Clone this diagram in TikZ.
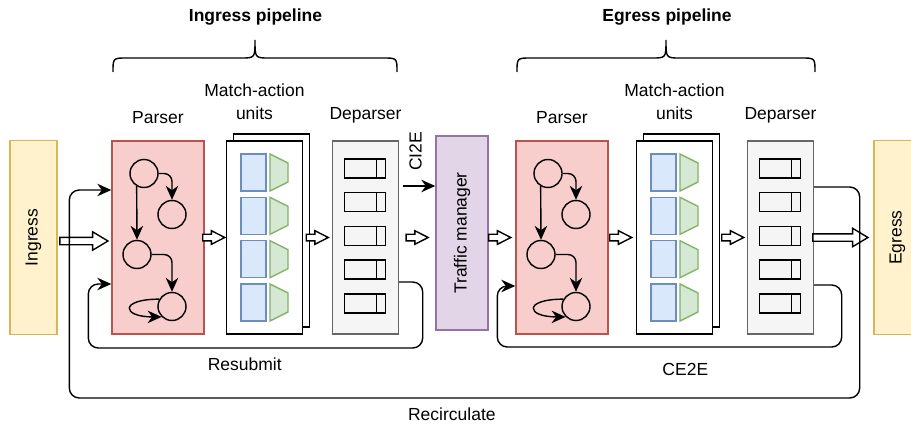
\documentclass[tikz,border=0pt]{standalone}
\usepackage{fontspec}
\setmainfont{Liberation Sans}
\usepackage{tikz}
\usetikzlibrary{shapes,arrows.meta,positioning,calc}

\definecolor{portfill}{HTML}{FFF2CC}
\definecolor{portline}{HTML}{D6B656}
\definecolor{parsefill}{HTML}{F8CECC}
\definecolor{parseline}{HTML}{B85450}
\definecolor{depfill}{HTML}{F5F5F5}
\definecolor{depline}{HTML}{666666}
\definecolor{tmfill}{HTML}{E1D5E7}
\definecolor{tmline}{HTML}{9673A6}
\definecolor{tablefill}{HTML}{DAE8FC}
\definecolor{tableline}{HTML}{6C8EBF}
\definecolor{actionfill}{HTML}{D5E8D4}
\definecolor{actionline}{HTML}{82B366}

\begin{document}
\begin{tikzpicture}[>={Stealth[length=14pt,width=12.5pt,inset=4.5pt]}, x=1pt, y=-1pt, line width=1.4pt, font=\fontsize{17.5}{23}\selectfont]
    \tikzstyle{port} = [draw=portline, fill=portfill, minimum width=47pt, minimum height=194pt];
    \tikzstyle{parser} = [draw=parseline, fill=parsefill, minimum width=92pt, minimum height=193pt];
    \tikzstyle{mau} = [draw, fill=white, minimum width=76pt, minimum height=193pt];
    \tikzstyle{deparser} = [draw=depline, fill=depfill, minimum width=66pt, minimum height=193pt];
    \tikzstyle{tm} = [draw=tmline, fill=tmfill, minimum width=52pt, minimum height=194pt];
    \tikzstyle{state} = [draw, circle, minimum size=28pt, inner sep=0pt];
    \tikzstyle{table} = [draw=tableline, fill=tablefill, minimum width=25pt, minimum height=37pt, inner sep=0pt];
    \tikzstyle{action} = [draw=actionline, fill=actionfill];
    \tikzstyle{field} = [draw, minimum width=41pt, minimum height=19pt, inner sep=0pt];
    \tikzstyle{hollow} = [draw, fill=white, single arrow, inner xsep=0pt, inner ysep=2.6pt, single arrow head extend=3.5pt, single arrow tip angle=54, anchor=tip, minimum height=22pt];
    \tikzstyle{bighollow} = [hollow, inner ysep=3pt, single arrow head extend=5.5pt, single arrow tip angle=62];
    \tikzstyle{loop} = [->, rounded corners=10pt];
    \tikzstyle{title} = [font=\fontsize{17.5}{23}\selectfont\bfseries];

    \useasboundingbox (0,0) rectangle (911,425);

    % Blocks
    \node [port] (ingress) at (33.5,237.5) {\rotatebox{90}{Ingress}};
    \node [parser, right of=ingress, node distance=124.5pt] (parserI) {};
    \node [mau, right of=parserI, node distance=113.5pt, yshift=7pt] (mauIback) {};
    \node [mau, right of=parserI, node distance=106.5pt] (mauI) {};
    \node [deparser, right of=mauI, node distance=101pt] (deparserI) {};
    \node [tm, right of=deparserI, node distance=96.5pt, yshift=4.5pt] (tm) {\rotatebox{90}{Traffic manager}};
    \node [parser, right of=deparserI, node distance=196.5pt] (parserE) {};
    \node [mau, right of=parserE, node distance=119.5pt, yshift=7pt] (mauEback) {};
    \node [mau, right of=parserE, node distance=112.5pt] (mauE) {};
    \node [deparser, right of=mauE, node distance=106pt] (deparserE) {};
    \node [port, right of=deparserE, node distance=117pt] (egress) {\rotatebox{90}{Egress}};

    % Labels
    \node [above=13pt of parserI] (parserIlbl) {Parser};
    \node [above=16.5pt of mauI, xshift=-10pt, align=center] (mauIlbl) {Match-action\\units};
    \node [above=13pt of deparserI] (deparserIlbl) {Deparser};
    \node [above=13pt of parserE] (parserElbl) {Parser};
    \node [above=16.5pt of mauE, align=center] (mauElbl) {Match-action\\units};
    \node [above=13pt of deparserE] (deparserElbl) {Deparser};
    \node [title] (ingtitle) at (255.5,17) {Ingress pipeline};
    \node [title] (egrtitle) at (667,17) {Egress pipeline};
    \foreach \a/\b in {113/397,517/815} {
        \pgfmathsetmacro{\m}{(\a+\b)/2}
        \draw (\a,72) .. controls (\a,58) .. (\a+14,58) -- (\m-14,58) .. controls (\m,58) .. (\m,40) .. controls (\m,58) .. (\m+14,58) -- (\b-14,58) .. controls (\b,58) .. (\b,72);
    }

    % Parser graphs, tables and fields
    \foreach \p in {I,E} {
        \node [state] (s1\p) at ($(parser\p)+(-14,-64)$) {};
        \node [state] (s2\p) at ($(parser\p)+(14,-23)$) {};
        \node [state] (s3\p) at ($(parser\p)+(-21,17)$) {};
        \node [state] (s4\p) at ($(parser\p)+(14,69)$) {};
        \draw [->] (s1\p.240) -- (s3\p.north);
        \draw [->, rounded corners=8pt] (s1\p.east) -| (s2\p.north);
        \draw [->, rounded corners=8pt] (s3\p.east) -| (s4\p.north);
        \draw [->] (s4\p.150) .. controls +(-40,0) and +(-40,0) .. (s4\p.225);
        \foreach \y [count=\i] in {-65,-21.7,21.7,65} {
            \node [table] (t\p\i) at ($(mau\p)+(-11,\y)$) {};
            \draw [action] ($(mau\p)+(5.5,\y-18.5)$) -- ++(18,9) -- ++(0,19) -- ++(-18,9) -- cycle;
        }
        \foreach \y [count=\i] in {-69,-35.3,-1.6,32.1,65.8} {
            \node [field] (f\p\i) at ($(deparser\p)+(-0.5,\y)$) {};
            \draw ([xshift=-10pt]f\p\i.north east) -- ([xshift=-10pt]f\p\i.south east);
        }
    }

    % Hollow arrows
    \node [bighollow, minimum height=48pt] (h0) at ([xshift=-2pt, yshift=-3.5pt]parserI.west) {};
    \node [hollow] (h1) at ([xshift=0.5pt]mauI.west) {};
    \node [hollow] (h2) at ([xshift=-2pt]deparserI.west) {};
    \node [hollow] (h3) at ([xshift=30.5pt]deparserI.east) {};
    \node [hollow] (h4) at ([xshift=-3pt]parserE.west) {};
    \node [hollow] (h5) at ([xshift=-2.5pt]mauE.west) {};
    \node [hollow] (h6) at ([xshift=-1.5pt]deparserE.west) {};
    \node [bighollow, minimum height=55pt] (h7) at ([xshift=-4pt]egress.west) {};

    % Paths
    \coordinate (ci2e) at ([xshift=3.5pt, yshift=51.5pt]deparserI.east);
    \draw [->] (ci2e) -- (ci2e -| tm.west);
    \node [rotate=90, anchor=west] (ci2elbl) at ([shift={(13,-11)}]ci2e) {CI2E};

    \coordinate (rsA) at ([yshift=-44.5pt]deparserI.east);
    \coordinate (rsB) at ([yshift=-46.5pt]parserI.west);
    \draw [loop] (rsA) -- ++(23.5,0) |- node [pos=0.766, below=6pt] (rslbl) {Resubmit} ($(rsB)+(-23,64)$) |- (rsB);

    \coordinate (ceA) at ([yshift=-47.5pt]deparserE.east);
    \coordinate (ceB) at ([yshift=-48.5pt]parserE.west);
    \draw [loop] (ceA) -- ++(27.5,0) |- node [pos=0.727, below=12pt] (celbl) {CE2E} ($(ceB)+(-18,61)$) |- (ceB);

    \coordinate (rcA) at ([yshift=50.5pt]deparserE.east);
    \coordinate (rcB) at ([yshift=47.5pt]parserI.west);
    \draw [loop] (rcA) -- ++(45.5,0) |- node [pos=0.758, below=6pt] (rclbl) {Recirculate} ($(rcB)+(-42,208)$) |- (rcB);
\end{tikzpicture}
\end{document}
